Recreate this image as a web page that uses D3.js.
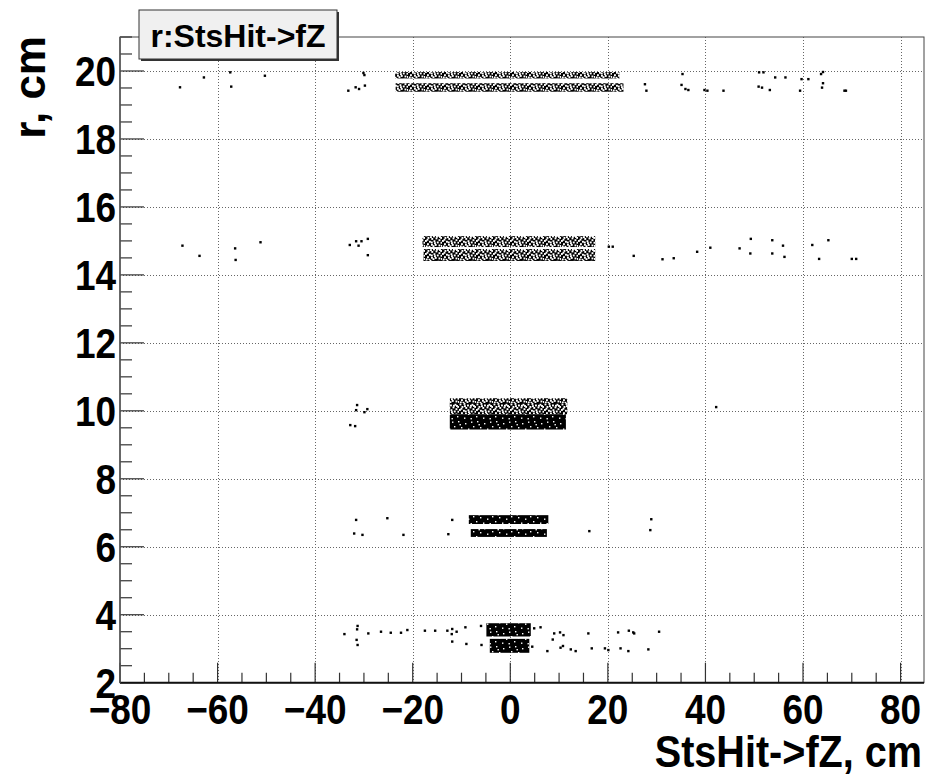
<!DOCTYPE html>
<html><head><meta charset="utf-8">
<script src="https://cdn.jsdelivr.net/npm/d3@7"></script>
<style>
body{margin:0;background:#fff;}
svg text{font-family:"Liberation Sans",Arial,Helvetica,sans-serif;font-weight:bold;fill:#000;}
</style></head>
<body>
<svg id="chart" width="930" height="778"></svg>
<script>
// ---- data ----
const xTickLabels = [-80, -60, -40, -20, 0, 20, 40, 60, 80];
const yTickLabels = [2, 4, 6, 8, 10, 12, 14, 16, 18, 20];
const chartTitle = "r:StsHit->fZ";
const xTitle = "StsHit->fZ, cm";
const yTitle = "r, cm";

// dense hit bands: z range, r range, density style
const bandZ0 = [-23.6, -23.5, -18.0, -17.8, -12.4, -12.4, -8.5, -8.1, -4.9, -4.2];
const bandZ1 = [ 22.4,  23.2,  17.4,  17.4,  11.7,  11.4,  7.8,  7.5,  4.2,  3.9];
const bandR0 = [19.78, 19.39, 14.82, 14.41, 9.90, 9.45, 6.67, 6.29, 3.36, 2.88];
const bandR1 = [19.97, 19.64, 15.14, 14.76, 10.37, 9.90, 6.93, 6.52, 3.75, 3.29];
const bandStyle = ["med","med","med","med","med","dense","dense","dense","dense","dense"];

// isolated hits (z, r)
const hitZ = [
 -67.7,-62.8,-57.4,-57.2,-50.3,-33.2,-31.7,-31.0,-29.8,-29.9,-30.1,
 27.6,27.9,35.3,35.1,35.9,36.5,39.8,40.4,43.7,51.0,51.9,54.3,56.4,50.9,51.6,53.2,59.7,61.1,63.7,64.1,64.1,63.9,59.4,68.5,68.8,
 -67.2,-63.7,-56.4,-56.3,-51.2,-32.9,-31.6,-31.1,-30.5,-29.2,-29.2,
 20.2,21.0,25.3,31.2,33.5,38.3,41.0,47.0,49.3,49.2,53.7,53.7,55.9,56.2,61.9,65.2,63.3,70.0,70.9,
 -31.4,-31.6,-29.9,-29.3,-32.8,-31.8,42.2,
 -31.6,-32.0,-30.3,-25.2,-21.9,-11.9,-12.7,16.2,28.9,28.7,
 -34.0,-31.3,-31.4,-31.5,-31.3,-29.1,-26.5,-24.5,-22.4,-21.1,-17.5,-15.4,-12.9,-11.9,-12.0,-11.0,-11.9,-9.2,-9.0,-6.0,-5.9,
 4.9,6.2,4.5,9.0,8.7,10.2,10.9,10.3,10.8,12.4,13.4,16.0,16.7,19.4,20.1,7.6,22.1,22.6,24.3,25.4,25.2,24.2,28.3,30.5
];
const hitR = [
 19.52,19.81,19.96,19.54,19.86,19.42,19.52,19.47,19.57,19.88,19.94,
 19.61,19.42,19.91,19.59,19.47,19.44,19.44,19.42,19.42,19.96,19.96,19.81,19.81,19.54,19.51,19.44,19.76,19.76,19.91,19.97,19.64,19.51,19.42,19.42,19.42,
 14.86,14.56,14.78,14.44,14.96,14.88,14.99,14.86,14.99,15.06,14.58,
 14.83,14.83,14.56,14.46,14.49,14.68,14.80,14.78,15.06,14.63,15.02,14.63,14.86,14.53,14.88,15.02,14.47,14.47,14.47,
 10.17,10.02,9.96,10.05,9.58,9.55,10.11,
 6.79,6.39,6.35,6.84,6.35,6.79,6.37,6.46,6.81,6.49,
 3.43,3.67,3.57,3.26,3.11,3.45,3.50,3.47,3.47,3.55,3.53,3.53,3.53,3.58,3.43,3.50,3.21,3.63,3.14,3.67,3.11,
 3.60,3.63,3.06,3.45,3.27,3.48,3.40,3.03,3.08,2.98,2.93,3.45,3.01,3.01,2.96,2.93,3.48,3.01,3.53,3.45,3.48,2.93,2.98,3.50
];

// ---- layout ----
const L = 120, R = 924, T = 37, B = 682.7;
const svg = d3.select("#chart");
const x = d3.scaleLinear().domain([-80, 84.8]).range([L, R]);
const y = d3.scaleLinear().domain([2, 21]).range([B, T]);

// speckle patterns (styling only)
const defs = svg.append("defs");
const pm = defs.append("pattern").attr("id","med").attr("patternUnits","userSpaceOnUse")
  .attr("width",17).attr("height",13);
pm.append("rect").attr("width",17).attr("height",13).attr("fill","#000");
[[0.5,0.5],[4.5,0],[8,1.5],[12.5,0.8],[15.2,3],[2.5,3],[6.3,4],[10.5,3.5],[13.5,5.2],[0,6],
 [4,6.8],[8.5,6.2],[11.8,7.5],[15.5,7.8],[2,9.2],[6,9.8],[9.8,10],[13.5,10.5],[0.8,11.5],[5,2.2],
 [7.5,11.2],[11,1.8],[3.5,11.8],[16,11],[14,2],[1.5,4.8],[9,8.2],[5.8,7.5]].forEach(p=>{
  pm.append("rect").attr("x",p[0]).attr("y",p[1]).attr("width",1.9).attr("height",1.9).attr("fill","#fff");
});
const pd = defs.append("pattern").attr("id","dense").attr("patternUnits","userSpaceOnUse")
  .attr("width",19).attr("height",15);
pd.append("rect").attr("width",19).attr("height",15).attr("fill","#000");
[[2,1],[9,3],[15,1.5],[5,7],[12,8.5],[17,6],[1,11],[8,12.5],[14.5,13],[3.5,4]].forEach(p=>{
  pd.append("rect").attr("x",p[0]).attr("y",p[1]).attr("width",1.4).attr("height",1.4).attr("fill","#fff");
});

// grid
const grid = svg.append("g").attr("stroke","#666").attr("stroke-width",1).attr("stroke-dasharray","1,2");
xTickLabels.forEach(v=>{ if (v>-80) grid.append("line").attr("x1",Math.round(x(v))+0.5).attr("x2",Math.round(x(v))+0.5).attr("y1",T).attr("y2",B); });
yTickLabels.forEach(v=>{ if (v>2) grid.append("line").attr("x1",L).attr("x2",R).attr("y1",Math.round(y(v))+0.5).attr("y2",Math.round(y(v))+0.5); });

// bands
svg.append("g").selectAll("rect").data(bandZ0.map((z,i)=>i)).join("rect")
  .attr("x",i=>x(bandZ0[i])).attr("width",i=>x(bandZ1[i])-x(bandZ0[i]))
  .attr("y",i=>y(bandR1[i])).attr("height",i=>y(bandR0[i])-y(bandR1[i]))
  .attr("fill",i=>"url(#"+bandStyle[i]+")");

// isolated hits
svg.append("g").selectAll("rect").data(hitZ.map((z,i)=>i)).join("rect")
  .attr("x",i=>x(hitZ[i])-1.2).attr("y",i=>y(hitR[i])-1.2)
  .attr("width",2.4).attr("height",2.4).attr("fill","#000");

// frame
svg.append("rect").attr("x",L).attr("y",T).attr("width",R-L).attr("height",B-T)
  .attr("fill","none").attr("stroke","#444").attr("stroke-width",1);

// axes ticks
const tk = svg.append("g").attr("stroke","#333").attr("stroke-width",1.2);
d3.range(-80, 85, 5).forEach(v=>{
  const major = v % 20 === 0;
  tk.append("line").attr("x1",x(v)).attr("x2",x(v)).attr("y1",B).attr("y2",B-(major?20:10));
});
d3.range(2, 21.01, 0.5).forEach(v=>{
  const major = Math.abs(v % 2) < 1e-6;
  tk.append("line").attr("x1",L).attr("x2",L+(major?24:12)).attr("y1",y(v)).attr("y2",y(v));
});
svg.append("line").attr("x1",L).attr("x2",R).attr("y1",B).attr("y2",B).attr("stroke","#111").attr("stroke-width",2);
svg.append("line").attr("x1",L).attr("x2",L).attr("y1",T).attr("y2",B).attr("stroke","#555").attr("stroke-width",1.5);

// tick labels
const sx = 0.88;
xTickLabels.forEach(v=>{
  svg.append("text").attr("transform",`translate(${x(v)},724) scale(${sx},1)`)
    .attr("text-anchor","middle").attr("font-size",42)
    .text(v<0 ? "\u2212"+Math.abs(v) : String(v));
});
yTickLabels.forEach(v=>{
  svg.append("text").attr("transform",`translate(116,${y(v)+15}) scale(${sx},1)`)
    .attr("text-anchor","end").attr("font-size",42).text(String(v));
});

// axis titles
svg.append("text").attr("transform",`translate(922,767) scale(0.9,1)`)
  .attr("text-anchor","end").attr("font-size",44).text(xTitle);
svg.append("text").attr("transform",`translate(45,36) rotate(-90)`)
  .attr("text-anchor","end").attr("font-size",44).text(yTitle);

// title box
svg.append("rect").attr("x",141).attr("y",12).attr("width",198).attr("height",49).attr("fill","#333");
svg.append("rect").attr("x",139).attr("y",10).attr("width",198).attr("height",49)
  .attr("fill","#f0f0f0").attr("stroke","#333").attr("stroke-width",1);
svg.append("text").attr("x",238).attr("y",47).attr("text-anchor","middle").attr("font-size",32).text(chartTitle);
</script>
</body></html>
